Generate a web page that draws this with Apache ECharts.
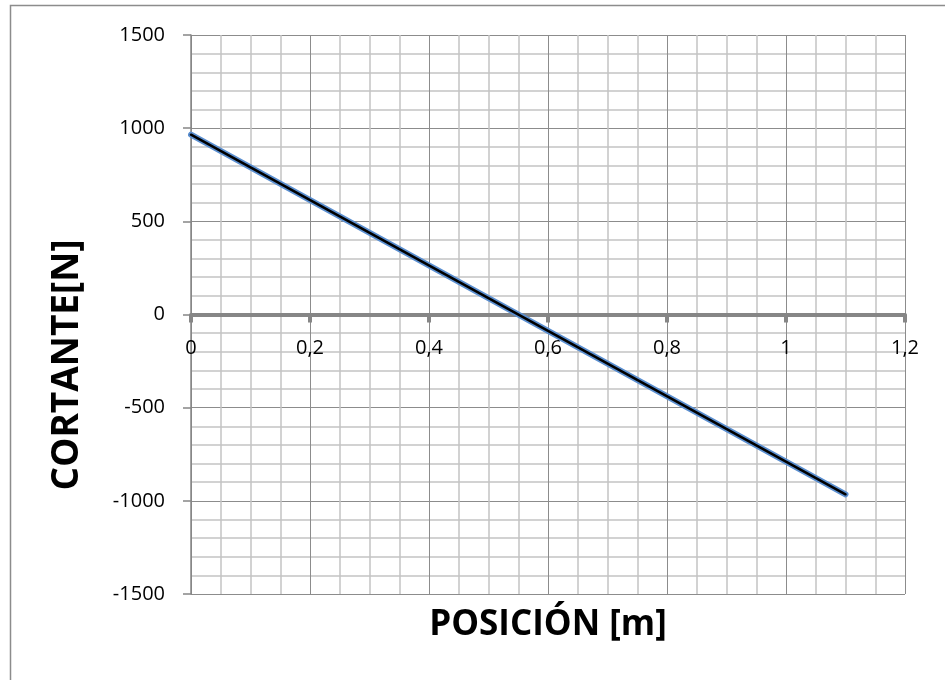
<!DOCTYPE html>
<html><head><meta charset="utf-8">
<script src="https://cdn.jsdelivr.net/npm/echarts@6/dist/echarts.min.js"></script>
<style>html,body{margin:0;padding:0;background:#fff}#c{width:945px;height:680px}</style>
</head><body><div id="c"></div>
<script>
const positions = [0, 1.1];
const shear = [965, -965];
const xTitle = 'POSICIÓN [m]';
const yTitle = 'CORTANTE[N]';

const pts = positions.map((x, i) => [x, shear[i]]);
const chart = echarts.init(document.getElementById('c'), null, {renderer: 'canvas'});
const font = 'Open Sans';
chart.setOption({
  animation: false,
  backgroundColor: '#fff',
  graphic: [
    {type: 'rect', shape: {x: 10.5, y: 5.5, width: 1000, height: 1000}, style: {fill: 'none', stroke: '#8c8c8c', lineWidth: 1.5}, z: 0},
    {type: 'text', x: 548, y: 625, style: {text: xTitle, font: 'bold 35px "Open Sans"', fill: '#000', align: 'center', verticalAlign: 'middle'}, z: 10},
    {type: 'text', x: 67, y: 365, rotation: Math.PI / 2, style: {text: yTitle, font: 'bold 37px "Open Sans"', fill: '#000', align: 'center', verticalAlign: 'middle'}, z: 10}
  ],
  grid: {left: 191, right: 40, top: 35, bottom: 86},
  xAxis: {
    type: 'value', min: 0, max: 1.2, interval: 0.2,
    position: 'bottom', offset: -279.5,
    axisLine: {onZero: false, lineStyle: {color: '#868686', width: 4}},
    axisTick: {show: true, length: 8, lineStyle: {color: '#868686', width: 4}},
    axisLabel: {fontFamily: font, fontSize: 20, color: '#000', margin: 24,
      formatter: v => String(Math.round(v * 10) / 10).replace('.', ',')},
    splitLine: {show: true, lineStyle: {color: '#8c8c8c', width: 1}},
    minorTick: {show: false, splitNumber: 4},
    minorSplitLine: {show: true, lineStyle: {color: '#c4c4c4', width: 1.5}}
  },
  yAxis: {
    type: 'value', min: -1500, max: 1500, interval: 500,
    axisLine: {show: true, onZero: false, lineStyle: {color: '#868686', width: 1.5}},
    axisTick: {show: true, length: 8, lineStyle: {color: '#868686', width: 1.5}},
    axisLabel: {fontFamily: font, fontSize: 20, color: '#000', margin: 26, formatter: v => String(v)},
    splitLine: {show: true, lineStyle: {color: '#8c8c8c', width: 1}},
    minorTick: {show: false, splitNumber: 5},
    minorSplitLine: {show: true, lineStyle: {color: '#c4c4c4', width: 1.5}}
  },
  series: [
    {type: 'line', data: pts, symbol: 'none', lineStyle: {color: '#5b8fd0', width: 6, cap: 'round'}, z: 3},
    {type: 'line', data: pts, symbol: 'none', lineStyle: {color: '#000', width: 2.5, cap: 'round'}, z: 4}
  ]
});
</script></body></html>
